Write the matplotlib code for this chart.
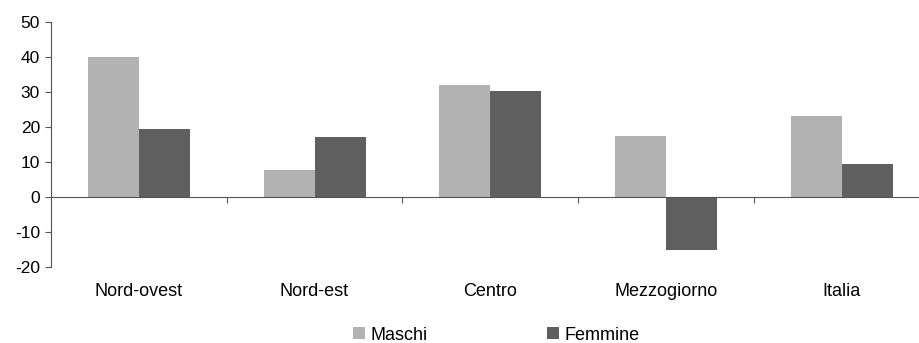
import matplotlib
matplotlib.use('Agg')
import matplotlib.pyplot as plt
import matplotlib.transforms as mtransforms
import numpy as np

plt.rcParams['font.family'] = ['Liberation Sans', 'DejaVu Sans']
plt.rcParams['axes.unicode_minus'] = False

categories = ['Nord-ovest', 'Nord-est', 'Centro', 'Mezzogiorno', 'Italia']
maschi = [40.0, 7.6, 32.0, 17.4, 23.1]
femmine = [19.4, 17.1, 30.3, -15.2, 9.4]

fig = plt.figure(figsize=(9.19, 3.43), dpi=100)
ax = fig.add_axes([51/919, 76.3/343, 878.5/919, (321-76.3)/343])

x = np.arange(len(categories)) + 0.5
w = 0.29
ax.bar(x - w/2, maschi, w, color='#b2b2b2', label='Maschi')
ax.bar(x + w/2, femmine, w, color='#5f5f5f', label='Femmine')

ax.set_xlim(0, len(categories))
ax.set_ylim(-20, 50)
ax.set_yticks(range(-20, 51, 10))
ax.tick_params(axis='y', direction='out', length=4, width=0.8, color='#555555',
               labelsize=12.5, pad=4)

ax.spines['top'].set_visible(False)
ax.spines['right'].set_visible(False)
ax.spines['left'].set_color('#555555')
ax.spines['bottom'].set_position(('data', 0))
ax.spines['bottom'].set_color('#555555')
ax.set_xticks(range(1, len(categories)))
ax.set_xticklabels([])
ax.tick_params(axis='x', direction='out', length=4.5, width=0.8, color='#555555')

trans = mtransforms.blended_transform_factory(ax.transData, fig.transFigure)
for xi, name in zip(x, categories):
    ax.text(xi, (343 - 292)/343, name, transform=trans, ha='center', va='center',
            fontsize=13, clip_on=False)

fig.legend(loc='center', bbox_to_anchor=(496/919, (343 - 335)/343), ncol=2,
           frameon=False, fontsize=13, handlelength=0.67, handleheight=0.67,
           handletextpad=0.3, columnspacing=6.6, borderpad=0)

fig.savefig('out.png', dpi=100)
